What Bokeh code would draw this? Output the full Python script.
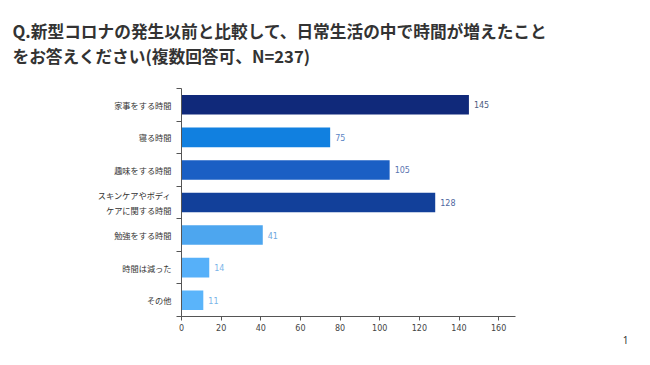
from bokeh.plotting import figure
from bokeh.models import Range1d, FixedTicker, Title, ColumnDataSource
from bokeh.core.properties import value
from bokeh.embed import file_html
from bokeh.resources import INLINE

categories = ["家事をする時間", "寝る時間", "趣味をする時間", "スキンケアやボディ\nケアに関する時間",
              "勉強をする時間", "時間は減った", "その他"]
values = [145, 75, 105, 128, 41, 14, 11]
bar_colors = ["#10297a", "#1180e0", "#1a5fc4", "#12409a", "#4da6ef", "#56b0f9", "#5ab4fa"]
label_colors = ["#4d5b80", "#5b84c4", "#5a74b0", "#4f66a0", "#6fa8e0", "#7ab5e8", "#7ab5e8"]
x_ticks = [0, 20, 40, 60, 80, 100, 120, 140, 160]
title_lines = ["Q.新型コロナの発生以前と比較して、日常生活の中で時間が増えたこと",
               "をお答えください(複数回答可、N=237)"]
page_number = "1"

n = len(categories)
centers = [n - i - 0.5 for i in range(n)]
src = ColumnDataSource(dict(y=centers, v=values, c=bar_colors, lc=label_colors,
                            t=[str(v) for v in values]))

W, H = 634, 349
p = figure(width=W, height=H, output_backend="svg", toolbar_location=None,
           x_range=Range1d(0, 168.5), y_range=Range1d(0, n),
           min_border_left=181, min_border_right=W - 181 - 334,
           min_border_top=88, min_border_bottom=H - 88 - 228)
p.outline_line_color = None
p.grid.visible = False
p.background_fill_color = "white"

p.hbar(y="y", right="v", left=0, height=0.6, fill_color="c", line_color=None, source=src)
p.text(x="v", y="y", text="t", text_color="lc", x_offset=5, text_align="left",
       text_baseline="middle", text_font=value("DejaVu Sans"), text_font_size="8px", source=src)

xa = p.xaxis[0]
xa.ticker = FixedTicker(ticks=x_ticks)
xa.axis_line_color = "#555555"
xa.major_tick_line_color = "#555555"
xa.major_tick_out = 4
xa.major_tick_in = 0
xa.minor_tick_line_color = None
xa.major_label_text_font = "DejaVu Sans"
xa.major_label_text_font_size = "8px"
xa.major_label_text_color = "#444444"
xa.major_label_standoff = 3

ya = p.yaxis[0]
ya.ticker = FixedTicker(ticks=centers, minor_ticks=list(range(n + 1)))
ya.major_label_overrides = {c: lab for c, lab in zip(centers, categories)}
ya.major_tick_out = 0
ya.major_tick_in = 0
ya.minor_tick_out = 5
ya.minor_tick_in = 0
ya.minor_tick_line_color = "#555555"
ya.axis_line_color = "#555555"
ya.major_label_text_font = "Noto Sans CJK JP"
ya.major_label_text_font_size = "8.2px"
ya.major_label_text_color = "#333333"
ya.major_label_standoff = 5

p.add_layout(Title(text="\n".join(title_lines), text_font="Noto Sans CJK JP",
                   text_font_style="bold", text_font_size="16.7px", text_color="#333333",
                   text_line_height=1.03, align="left", vertical_align="top",
                   offset=-169, standoff=37), "above")

p.add_layout(Title(text=page_number, text_font="Noto Sans", text_font_style="normal",
                   text_font_size="10px", text_color="#333333", align="right",
                   offset=-113, standoff=0), "below")

open("out.html", "w").write(file_html(p, INLINE))
